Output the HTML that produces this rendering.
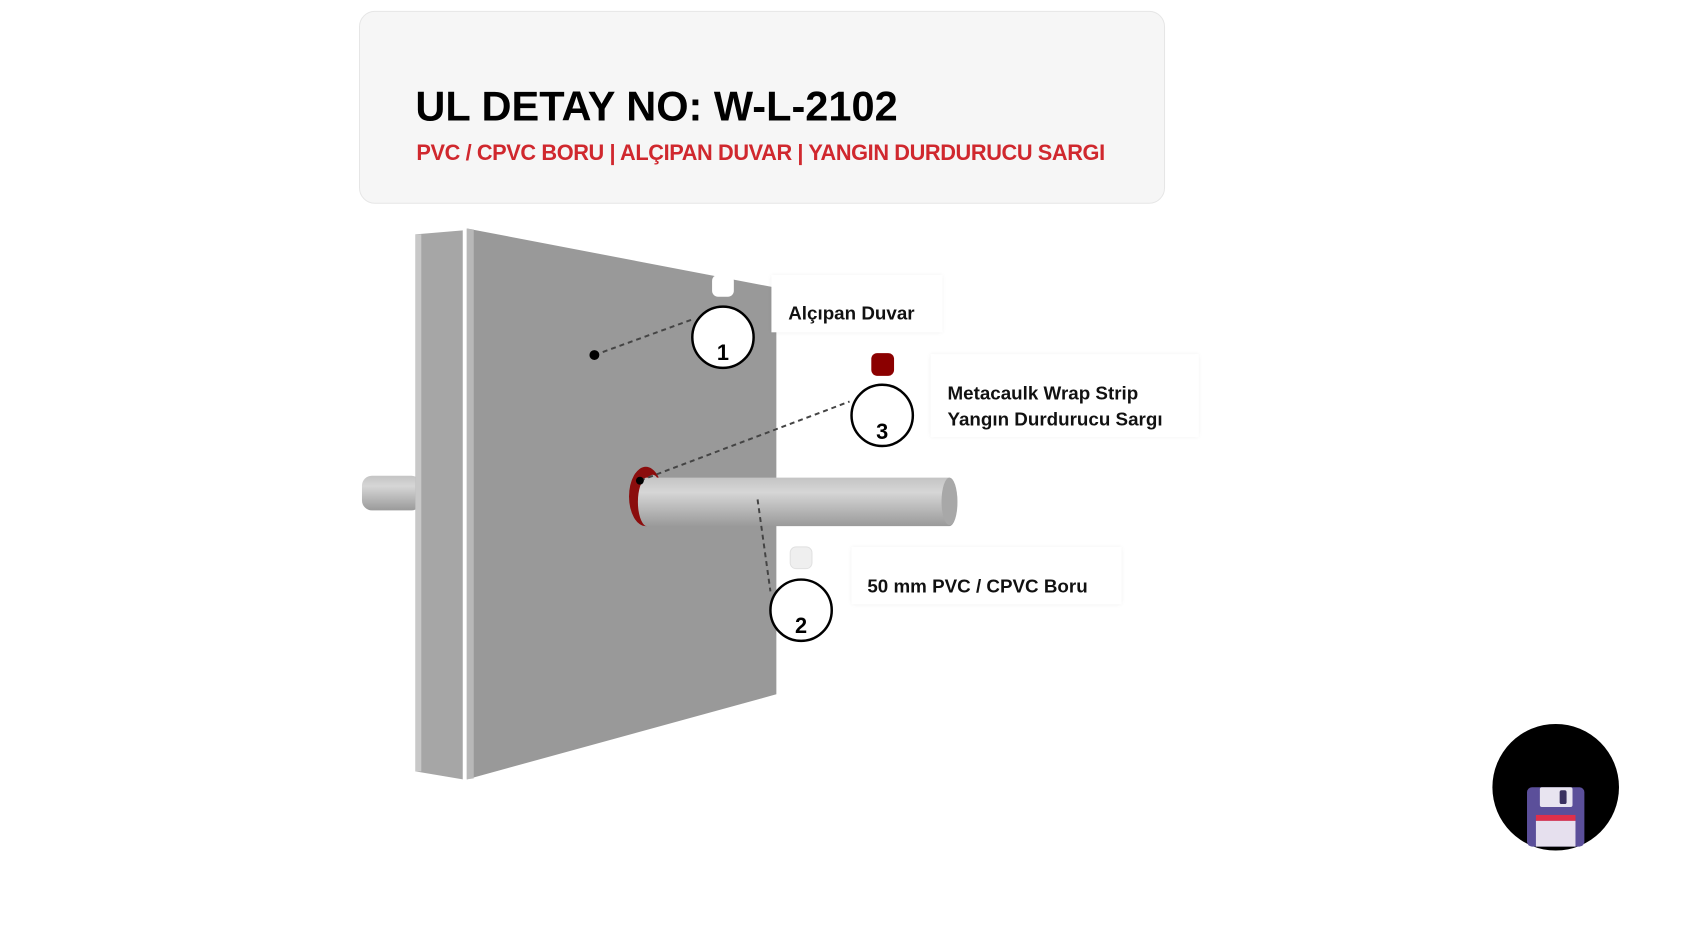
<!DOCTYPE html>
<html><head><meta charset="utf-8"><style>
body{margin:0;width:1700px;height:932px;background:#fff;position:relative;overflow:hidden;font-family:"Liberation Sans",sans-serif}
#w{position:absolute;left:0;top:0;width:1700px;height:932px;transform:scale(0.989);transform-origin:0 0}
.hdr{position:absolute;left:363px;top:11px;width:815px;height:195px;background:#f6f6f6;border:1px solid #e6e6e6;border-radius:16px;box-sizing:border-box}
.t{position:absolute;left:420px;top:84px;font-size:42px;font-weight:bold;color:#000;letter-spacing:0px}
.s{position:absolute;left:421px;top:142px;font-size:22px;font-weight:bold;color:#d0282e;letter-spacing:-0.4px}
.lb{position:absolute;background:#fff;box-shadow:0 0 4px rgba(0,0,0,0.06);font-weight:bold;font-size:19px;color:#111;box-sizing:border-box}
</style></head><body><div id="w">
<div class="hdr"></div>
<div class="t">UL DETAY NO: W-L-2102</div>
<div class="s">PVC / CPVC BORU | ALÇIPAN DUVAR | YANGIN DURDURUCU SARGI</div>
<svg width="1700" height="932" style="position:absolute;left:0;top:0">
<defs>
<linearGradient id="pg" x1="0" y1="0" x2="0" y2="1">
<stop offset="0" stop-color="#c4c4c4"/><stop offset="0.3" stop-color="#d6d6d6"/><stop offset="1" stop-color="#9a9a9a"/></linearGradient>
</defs>
<rect x="366" y="481" width="60" height="35" rx="10" fill="url(#pg)"/>
<polygon points="420,237 468,233 468,788 420,780" fill="#a6a6a6"/>
<polygon points="420,237 426,237 426,780 420,780" fill="#c8c8c8"/>
<polygon points="468,233 472,232 472,788 468,788" fill="#fff"/>
<polygon points="472,231 785,291 785,702 472,788" fill="#999999"/>
<polygon points="472,231 479,232 479,787 472,788" fill="#b8b8b8"/>
<ellipse cx="653" cy="502" rx="17" ry="30" fill="#8b0d0d"/>
<ellipse cx="660" cy="504" rx="9" ry="24" fill="#b0b0b0"/>
<path d="M653,483 L960,483 A8,24 0 0 1 960,532 L653,532 A10,25 0 0 1 653,483Z" fill="url(#pg)"/>
<ellipse cx="960" cy="507" rx="8" ry="24" fill="#a8a8a8"/>
<g stroke="#444" stroke-width="2" stroke-dasharray="5,4" fill="none">
<line x1="601" y1="359" x2="700" y2="323"/>
<line x1="647" y1="486" x2="859" y2="406"/>
<line x1="766" y1="505" x2="779" y2="598"/>
</g>
<circle cx="601" cy="359" r="5" fill="#000"/>
<circle cx="647" cy="486" r="4" fill="#000"/>
<g fill="#fff" stroke="#000" stroke-width="2.5">
<circle cx="731" cy="341" r="31"/><circle cx="892" cy="420" r="31"/><circle cx="810" cy="617" r="31"/>
</g>
<g font-family="Liberation Sans" font-weight="bold" font-size="22" text-anchor="middle">
<text x="731" y="364">1</text><text x="892" y="444">3</text><text x="810" y="640">2</text>
</g>
<rect x="720" y="278" width="22" height="22" rx="6" fill="#fff"/>
<rect x="881" y="357" width="23" height="23" rx="6" fill="#8b0000"/>
<rect x="799" y="553" width="22" height="22" rx="6" fill="#efefef" stroke="#e0e0e0"/>
<circle cx="1573" cy="796" r="64" fill="#000"/>
<rect x="1544" y="796" width="58" height="60" rx="5" fill="#5b4f9a"/>
<rect x="1557" y="796" width="33" height="20" rx="2" fill="#e8e4f0"/>
<rect x="1577" y="799" width="7" height="14" rx="2" fill="#3a3060"/>
<rect x="1553" y="824" width="40" height="6" fill="#e0304a"/>
<rect x="1553" y="830" width="40" height="26" fill="#e6e0ee"/>
</svg>
<div class="lb" style="left:780px;top:278px;width:173px;height:58px;padding:29px 0 0 17px">Alçıpan Duvar</div>
<div class="lb" style="left:941px;top:358px;width:271px;height:84px;padding:28px 0 0 17px;line-height:26px">Metacaulk Wrap Strip<br>Yangın Durdurucu Sargı</div>
<div class="lb" style="left:861px;top:553px;width:273px;height:58px;padding:30px 0 0 16px">50 mm PVC / CPVC Boru</div>
</div></body></html>
